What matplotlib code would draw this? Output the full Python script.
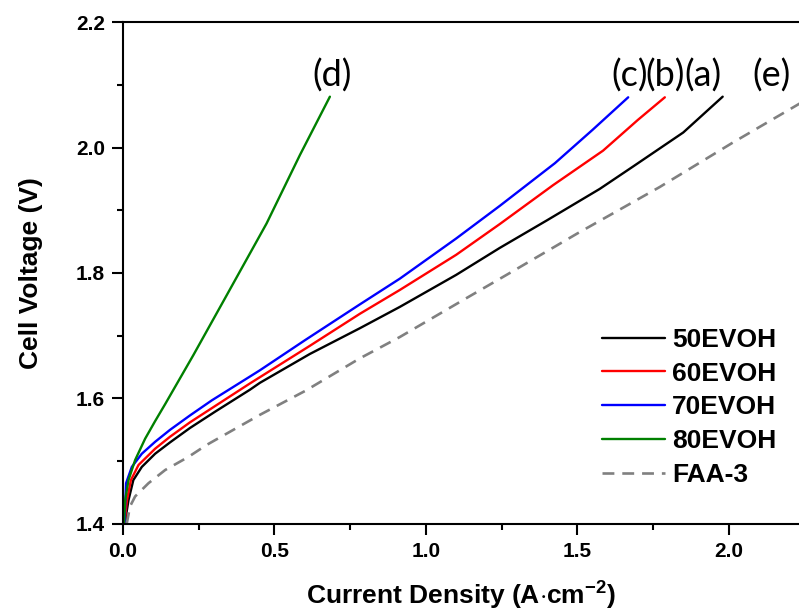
import matplotlib
matplotlib.use("Agg")
import matplotlib.pyplot as plt
from matplotlib.ticker import MultipleLocator

plt.rcParams["font.family"] = "Liberation Sans"
plt.rcParams["font.weight"] = "bold"
plt.rcParams["mathtext.fontset"] = "custom"
plt.rcParams["mathtext.rm"] = "Liberation Sans:bold"
plt.rcParams["mathtext.bf"] = "Liberation Sans:bold"

# polarisation curves, current density (A/cm2) vs cell voltage (V)
x_50 = [0.008, 0.012, 0.018, 0.034, 0.062, 0.106, 0.155, 0.221, 0.304, 0.419,
        0.452, 0.617, 0.782, 0.914, 1.10, 1.244, 1.40, 1.574, 1.685, 1.85, 1.98]
v_50 = [1.400, 1.420, 1.438, 1.470, 1.491, 1.512, 1.530, 1.553, 1.579, 1.614,
        1.625, 1.671, 1.712, 1.746, 1.797, 1.840, 1.884, 1.934, 1.970, 2.024,
        2.081]

x_60 = [0.006, 0.009, 0.013, 0.026, 0.051, 0.106, 0.155, 0.221, 0.304, 0.419,
        0.452, 0.617, 0.782, 0.914, 1.10, 1.244, 1.42, 1.585, 1.70, 1.789]
v_60 = [1.400, 1.420, 1.438, 1.470, 1.494, 1.520, 1.539, 1.562, 1.588, 1.624,
        1.634, 1.684, 1.735, 1.773, 1.829, 1.878, 1.940, 1.995, 2.044, 2.080]

x_70 = [0.005, 0.007, 0.010, 0.029, 0.062, 0.106, 0.155, 0.221, 0.293, 0.419,
        0.452, 0.601, 0.782, 0.914, 1.10, 1.244, 1.426, 1.55, 1.668]
v_70 = [1.400, 1.430, 1.465, 1.491, 1.512, 1.531, 1.550, 1.573, 1.597, 1.635,
        1.645, 1.693, 1.750, 1.791, 1.855, 1.907, 1.975, 2.028, 2.080]

x_80 = [0.003, 0.007, 0.018, 0.040, 0.073, 0.106, 0.139, 0.232, 0.337, 0.474,
        0.584, 0.683]
v_80 = [1.400, 1.438, 1.470, 1.502, 1.536, 1.564, 1.591, 1.669, 1.760, 1.879,
        1.988, 2.081]

x_faa = [0.012, 0.023, 0.040, 0.084, 0.139, 0.216, 0.276, 0.452, 0.601, 0.782,
         0.914, 1.134, 1.277, 1.50, 1.772, 2.014, 2.234, 2.30]
v_faa = [1.400, 1.428, 1.444, 1.465, 1.486, 1.507, 1.526, 1.574, 1.612, 1.664,
         1.698, 1.760, 1.800, 1.863, 1.937, 2.008, 2.070, 2.088]

tags = ["(a)", "(b)", "(c)", "(d)", "(e)"]
tag_x = [1.914, 1.789, 1.673, 0.69, 2.142]
tag_y = 2.115

fig = plt.figure(figsize=(7.99, 6.13), dpi=100)
ax = fig.add_axes([0.154, 0.1452, 0.846, 0.8189])

line_kw = dict(lw=1.7, solid_joinstyle="round", solid_capstyle="round")
ax.plot(x_50, v_50, color="black", label="50EVOH", **line_kw)
ax.plot(x_60, v_60, color="red", label="60EVOH", **line_kw)
ax.plot(x_70, v_70, color="blue", label="70EVOH", **line_kw)
ax.plot(x_80, v_80, color="green", label="80EVOH", **line_kw)
ax.plot(x_faa, v_faa, color="gray", lw=1.9, dashes=(4.5, 3), label="FAA-3")

for t, tx in zip(tags, tag_x):
    ax.text(tx, tag_y, t, ha="center", va="center", fontsize=26,
            family="Lato", fontweight="normal")

ax.set_xlim(0, 2.232)
ax.set_ylim(1.4, 2.2)
ax.xaxis.set_major_locator(MultipleLocator(0.5))
ax.xaxis.set_minor_locator(MultipleLocator(0.25))
ax.yaxis.set_major_locator(MultipleLocator(0.2))
ax.yaxis.set_minor_locator(MultipleLocator(0.1))
ax.tick_params(which="major", direction="out", length=8, width=1.5, pad=5,
               labelsize=15)
ax.tick_params(which="minor", direction="out", length=4.5, width=1.5)
for s in ["left", "bottom", "top"]:
    ax.spines[s].set_linewidth(1.5)
ax.spines["right"].set_visible(False)

ax.set_xlabel(r"Current Density (A$\cdot$cm$^{\mathbf{-2}}$)", fontsize=19,
              fontweight="bold", labelpad=12)
ax.set_ylabel("Cell Voltage (V)", fontsize=19, fontweight="bold", labelpad=24)

leg = ax.legend(loc="upper left", bbox_to_anchor=(0.7534, 0.465),
                bbox_transform=fig.transFigure, frameon=False,
                prop={"weight": "bold", "size": 19},
                handlelength=2.4, handletextpad=0.25, labelspacing=0.37,
                borderpad=0, borderaxespad=0)

plt.savefig("out.png", dpi=100)
